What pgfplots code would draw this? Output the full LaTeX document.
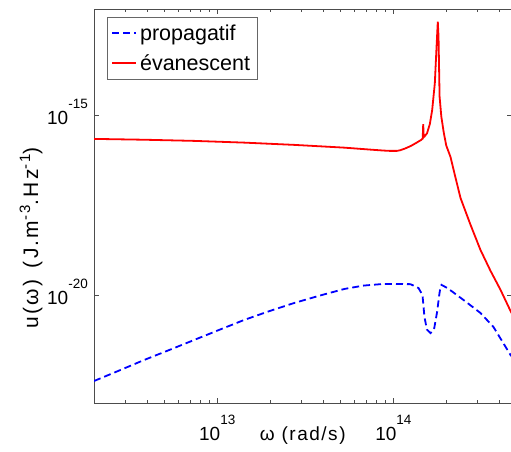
\documentclass[border=0pt]{standalone}
\usepackage{pgfplots}
\pgfplotsset{compat=1.18}
\usepackage{fontspec}
\setmainfont{Liberation Sans}
\newcommand{\tl}[2]{#1\raisebox{16pt}{\fontsize{13.5}{13.5}\selectfont #2}}
\begin{document}
\begin{tikzpicture}
\begin{axis}[
  name=ax,
  xmode=log, ymode=log,
  scale only axis,
  width=417.5pt, height=394pt,
  xmin=2e12, xmax=4.68e14,
  ymin=1e-23, ymax=8.7e-13,
  axis line style={black!70, line width=0.6pt},
  tick style={black!70, line width=0.6pt},
  major tick length=5pt, minor tick length=3pt,
  tick align=inside,
  xtick={1e13,1e14},
  xticklabels={\tl{10}{13},\tl{10}{14}},
  minor xtick={3e12,4e12,5e12,6e12,7e12,8e12,9e12,2e13,3e13,4e13,5e13,6e13,7e13,8e13,9e13,2e14,3e14,4e14},
  ytick={1e-20,1e-15},
  yticklabels={\tl{10}{-20},\tl{10}{-15}},
  minor ytick={},
  xticklabel style={font=\fontsize{19}{19}\selectfont, anchor=base, inner sep=0pt, yshift=-37pt},
  yticklabel style={font=\fontsize{19}{19}\selectfont, anchor=base east, inner sep=0pt, xshift=-6pt, yshift=-10pt},
  xlabel={ω (rad/s)},
  xlabel style={font=\fontsize{19}{19}\selectfont\addfontfeature{LetterSpace=8}, at={(axis description cs:0.5,0)}, anchor=base, inner sep=0pt, yshift=-37pt},
  ylabel={u(ω)\hspace{3pt} (J.m\raisebox{8pt}{\fontsize{15}{15}\selectfont -3}.Hz\raisebox{8pt}{\fontsize{15}{15}\selectfont -1})},
  ylabel style={font=\fontsize{21}{21}\selectfont\addfontfeature{LetterSpace=11}, at={(axis description cs:-0.123,0.419)}, anchor=south, inner sep=0pt},
  legend style={at={(axis description cs:0.031,0.979)}, anchor=north west, draw=black!60, line width=0.6pt,
    font=\fontsize{21.5}{21.5}\selectfont, inner xsep=4pt, inner ysep=6pt, row sep=11pt,
    nodes={inner xsep=3pt, inner ysep=1pt}},
  legend cell align=left,
  legend image code/.code={\draw[#1] (0pt,0pt) -- (24pt,0pt);},
  clip=true,
]
\addplot[blue, line width=1.8pt, dash pattern=on 7pt off 4pt] coordinates {
(2.000e12,4.083e-23)
(2.773e12,7.943e-23)
(3.846e12,1.563e-22)
(5.333e12,2.951e-22)
(7.396e12,5.623e-22)
(1.026e13,1.072e-21)
(1.422e13,2.023e-21)
(1.972e13,3.548e-21)
(2.738e13,5.998e-21)
(3.802e13,9.55e-21)
(5.272e13,1.469e-20)
(6.761e13,1.820e-20)
(8.770e13,2.023e-20)
(1.014e14,2.023e-20)
(1.250e14,1.995e-20)
(1.387e14,1.563e-20)
(1.462e14,1.0e-20)
(1.500e14,2.455e-21)
(1.549e14,1.096e-21)
(1.622e14,8.71e-22)
(1.698e14,1.07e-21)
(1.770e14,3.39e-21)
(1.820e14,1.0e-20)
(1.849e14,1.660e-20)
(1.875e14,1.905e-20)
(2.028e14,1.549e-20)
(2.500e14,7.244e-21)
(3.119e14,3.162e-21)
(3.698e14,1.288e-21)
(4.624e14,2.138e-22)
(4.677e14,2.0e-22)
};
\addlegendentry{propagatif}
\addplot[red, line width=1.8pt] coordinates {
(2.000e12,2.153e-16)
(3.846e12,2.042e-16)
(7.396e12,1.897e-16)
(1.422e13,1.698e-16)
(2.738e13,1.469e-16)
(5.272e13,1.230e-16)
(7.500e13,1.080e-16)
(8.770e13,1.023e-16)
(9.550e13,1.0e-16)
(1.047e14,1.0e-16)
(1.096e14,1.047e-16)
(1.170e14,1.175e-16)
(1.259e14,1.38e-16)
(1.334e14,1.622e-16)
(1.442e14,2.04e-16)
(1.466e14,2.2e-16)
(1.476e14,5.5e-16)
(1.486e14,2.4e-16)
(1.500e14,2.5e-16)
(1.552e14,3.09e-16)
(1.610e14,5.6e-16)
(1.660e14,1.38e-15)
(1.718e14,7.586e-15)
(1.754e14,6.457e-14)
(1.786e14,3.89e-13)
(1.803e14,1.5e-13)
(1.828e14,3.236e-15)
(1.870e14,9.0e-16)
(1.932e14,3.162e-16)
(1.995e14,1.41e-16)
(2.109e14,6.761e-17)
(2.239e14,2.0e-17)
(2.404e14,4.898e-18)
(2.738e14,8.9e-19)
(3.119e14,1.778e-19)
(3.556e14,4.68e-20)
(4.055e14,1.380e-20)
(4.677e14,3.16e-21)
};
\addlegendentry{évanescent}
\end{axis}
\pgfresetboundingbox
\path[use as bounding box] ([shift={(-94pt,-49pt)}]ax.south west) rectangle ([shift={(-0.5pt,9pt)}]ax.north east);
\end{tikzpicture}
\end{document}
